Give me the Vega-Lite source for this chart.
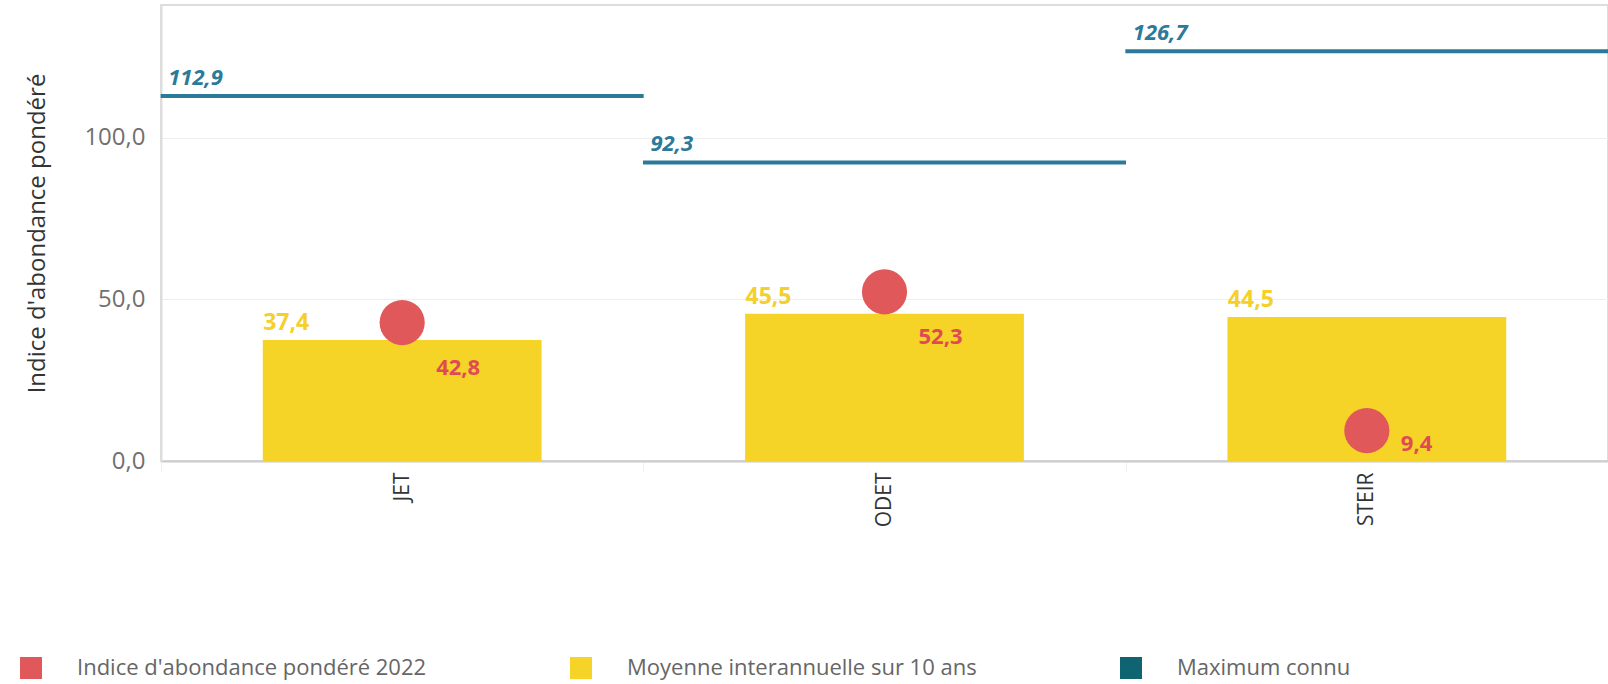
{
  "$schema": "https://vega.github.io/schema/vega-lite/v6.json",
  "autosize": {"type": "none"},
  "padding": {"left": 161, "top": 5, "right": 0, "bottom": 223},
  "width": 1447,
  "height": 456,
  "config": {
    "locale": {"number": {"decimal": ",", "thousands": " ", "grouping": [3], "currency": ["", " €"]}},
    "font": "Open Sans, sans-serif",
    "view": {"stroke": "#dddddd", "strokeWidth": 2}
  },
  "data": {
    "values": [
      {"riviere": "JET", "indice": 42.8, "moyenne": 37.4, "maximum": 112.9},
      {"riviere": "ODET", "indice": 52.3, "moyenne": 45.5, "maximum": 92.3},
      {"riviere": "STEIR", "indice": 9.4, "moyenne": 44.5, "maximum": 126.7}
    ]
  },
  "encoding": {
    "x": {
      "field": "riviere", "type": "nominal",
      "scale": {"paddingInner": 0, "paddingOuter": 0},
      "axis": {
        "title": null, "labelAngle": -90, "labelAlign": "right", "labelBaseline": "middle",
        "labelFontSize": 21, "labelColor": "#333333", "labelPadding": 1,
        "domainColor": "#cccccc", "domainWidth": 2,
        "tickBand": "extent", "tickColor": "#eeeeee", "tickSize": 10, "tickWidth": 1
      }
    }
  },
  "layer": [
    {
      "mark": {"type": "bar", "width": {"band": 0.578}, "opacity": 1},
      "encoding": {
        "y": {
          "field": "moyenne", "type": "quantitative",
          "scale": {"domain": [0, 141], "nice": false},
          "axis": {
            "title": "Indice d'abondance pondéré", "titleFontSize": 24, "titleFontWeight": "normal",
            "titleColor": "#333333", "titlePadding": 34,
            "values": [0, 50, 100], "format": ".1f",
            "labelFontSize": 24, "labelColor": "#707070", "labelPadding": 16,
            "ticks": false, "domainColor": "#dddddd", "domainWidth": 2,
            "gridColor": "#eeeeee", "gridWidth": 1
          }
        },
        "fill": {
          "datum": "Moyenne interannuelle sur 10 ans", "type": "nominal",
          "scale": {
            "domain": ["Indice d'abondance pondéré 2022", "Moyenne interannuelle sur 10 ans", "Maximum connu"],
            "range": ["#e0585a", "#f5d327", "#0e6470"]
          },
          "legend": {
            "title": null, "orient": "none", "direction": "horizontal", "columns": 3,
            "legendX": -141, "legendY": 652, "gridAlign": "none", "columnPadding": 143,
            "symbolType": "square", "symbolSize": 484, "symbolStrokeWidth": 0, "symbolOpacity": 1,
            "labelFontSize": 22, "labelColor": "#666666", "labelOffset": 35, "labelLimit": 600,
            "encode": {"symbols": {"update": {"opacity": {"value": 1}, "fillOpacity": {"value": 1}}}}
          }
        }
      }
    },
    {
      "mark": {"type": "text", "align": "left", "baseline": "middle", "dx": -139, "dy": -17, "fontSize": 23, "fontWeight": "bold", "color": "#f5cf2a"},
      "encoding": {
        "y": {"field": "moyenne", "type": "quantitative"},
        "text": {"field": "moyenne", "type": "quantitative", "format": ".1f"}
      }
    },
    {
      "mark": {"type": "tick", "size": 483, "thickness": 4, "color": "#2c7a9a", "opacity": 1, "orient": "horizontal"},
      "encoding": {
        "y": {"field": "maximum", "type": "quantitative"}
      }
    },
    {
      "mark": {"type": "text", "align": "left", "baseline": "middle", "dx": -234, "dy": -18, "fontSize": 22, "fontWeight": "bold", "fontStyle": "italic", "color": "#2c7a9a"},
      "encoding": {
        "y": {"field": "maximum", "type": "quantitative"},
        "text": {"field": "maximum", "type": "quantitative", "format": ".1f"}
      }
    },
    {
      "mark": {"type": "circle", "size": 2040, "opacity": 1},
      "encoding": {
        "y": {"field": "indice", "type": "quantitative"},
        "fill": {"datum": "Indice d'abondance pondéré 2022", "type": "nominal"}
      }
    },
    {
      "transform": [{"filter": "datum.indice >= 15"}],
      "mark": {"type": "text", "align": "left", "baseline": "middle", "dx": 34, "dy": 45, "fontSize": 22, "fontWeight": "bold", "color": "#e04a55"},
      "encoding": {
        "y": {"field": "indice", "type": "quantitative"},
        "text": {"field": "indice", "type": "quantitative", "format": ".1f"}
      }
    },
    {
      "transform": [{"filter": "datum.indice < 15"}],
      "mark": {"type": "text", "align": "left", "baseline": "middle", "dx": 34, "dy": 13, "fontSize": 22, "fontWeight": "bold", "color": "#e04a55"},
      "encoding": {
        "y": {"field": "indice", "type": "quantitative"},
        "text": {"field": "indice", "type": "quantitative", "format": ".1f"}
      }
    }
  ]
}
